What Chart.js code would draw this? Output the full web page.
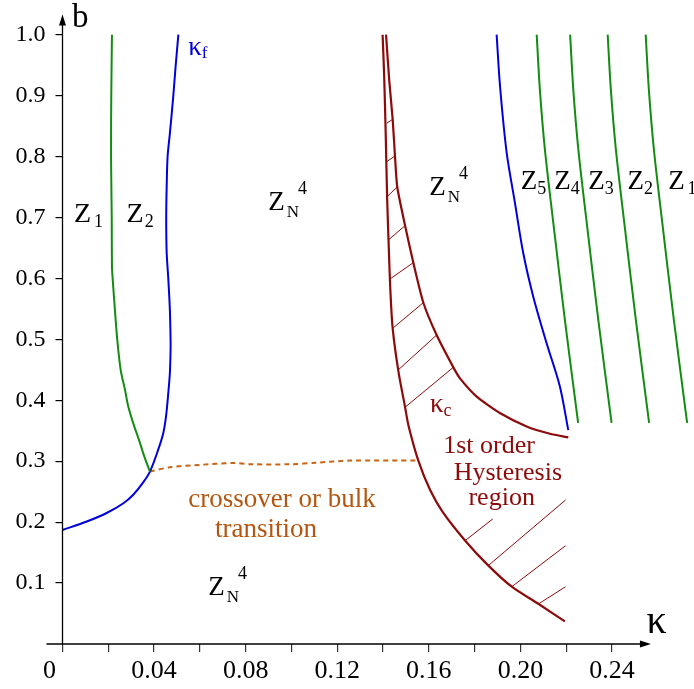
<!DOCTYPE html>
<html>
<head>
<meta charset="utf-8">
<script src="https://cdn.jsdelivr.net/npm/chart.js@4.4.1/dist/chart.umd.min.js"></script>
<style>
  html, body { margin: 0; padding: 0; background: #fff; }
  #wrap { width: 694px; height: 689px; }
</style>
</head>
<body>
<div id="wrap"><canvas id="phaseChart" width="694" height="689"></canvas></div>
<script>
// tick labels
const kappaTickLabels = ["0", "0.04", "0.08", "0.12", "0.16", "0.20", "0.24"];
const bTickLabels = ["0.1", "0.2", "0.3", "0.4", "0.5", "0.6", "0.7", "0.8", "0.9", "1.0"];

// phase boundaries, [kappa, b]
const greenLeft = [[0.0216, 1.0], [0.0213, 0.9], [0.0212, 0.8], [0.0215, 0.7], [0.0216, 0.62], [0.0219, 0.6],
  [0.0229, 0.548], [0.0239, 0.5], [0.0254, 0.45], [0.0273, 0.417], [0.0287, 0.39], [0.0309, 0.362],
  [0.0334, 0.335], [0.0357, 0.308], [0.0382, 0.283]];
const kappaF = [[0.0, 0.187], [0.0106, 0.201], [0.0193, 0.215], [0.0266, 0.231], [0.0309, 0.245], [0.0350, 0.264],
  [0.0382, 0.283], [0.0418, 0.319], [0.0440, 0.346], [0.0452, 0.373], [0.0462, 0.412], [0.0469, 0.445],
  [0.0472, 0.483], [0.0472, 0.5], [0.0469, 0.548], [0.0462, 0.6], [0.0455, 0.642], [0.0453, 0.7],
  [0.0455, 0.751], [0.0459, 0.8], [0.0469, 0.838], [0.0484, 0.9], [0.0494, 0.948], [0.0506, 1.0]];
const bulkLine = [[0.0382, 0.283], [0.0469, 0.290], [0.0600, 0.294], [0.0745, 0.297], [0.0819, 0.295],
  [0.0993, 0.295], [0.1110, 0.2976], [0.1255, 0.301], [0.1554, 0.301]];
const kappaCOuter = [[0.1398, 1.0], [0.1405, 0.93], [0.1412, 0.83], [0.1418, 0.73], [0.1425, 0.65], [0.1432, 0.58],
  [0.1442, 0.518], [0.1466, 0.45], [0.1496, 0.389], [0.1512, 0.357], [0.1554, 0.301], [0.1605, 0.253],
  [0.1660, 0.217], [0.1758, 0.170], [0.1859, 0.129], [0.1962, 0.094], [0.2078, 0.066], [0.2194, 0.037]];
const kappaCInner = [[0.1413, 1.0], [0.1427, 0.925], [0.1442, 0.861], [0.1452, 0.801], [0.1462, 0.75],
  [0.1496, 0.687], [0.1532, 0.626], [0.1576, 0.560], [0.1634, 0.507], [0.1707, 0.454], [0.1736, 0.436],
  [0.1809, 0.406], [0.1910, 0.379], [0.2027, 0.357], [0.2129, 0.345], [0.2209, 0.339]];
const hatchSegments = [
  [[0.1416, 0.8546], [0.1442, 0.8611]],
  [[0.1416, 0.7916], [0.1452, 0.8009]],
  [[0.1418, 0.7341], [0.1462, 0.7505]],
  [[0.1423, 0.6631], [0.1496, 0.6865]],
  [[0.1430, 0.5990], [0.1532, 0.6258]],
  [[0.1442, 0.5181], [0.1576, 0.5602]],
  [[0.1466, 0.4497], [0.1634, 0.5071]],
  [[0.1496, 0.3885], [0.1707, 0.4541]],
  [[0.1758, 0.1695], [0.1879, 0.2052]],
  [[0.1859, 0.1285], [0.2197, 0.2363]],
  [[0.1962, 0.0940], [0.2197, 0.1613]],
  [[0.2078, 0.0656], [0.2197, 0.0940]]
];
const blueRight = [[0.1896, 1.0], [0.1911, 0.915], [0.1940, 0.806], [0.1976, 0.724], [0.2012, 0.642],
  [0.2056, 0.570], [0.2114, 0.494], [0.2172, 0.423], [0.2209, 0.351]];
const greenRight1 = [[0.2071, 1.0], [0.2085, 0.909], [0.2107, 0.811], [0.2142, 0.696], [0.2194, 0.532], [0.2252, 0.363]];
const greenRight2 = [[0.2217, 1.0], [0.2231, 0.909], [0.2253, 0.811], [0.2288, 0.696], [0.2340, 0.532], [0.2398, 0.363]];
const greenRight3 = [[0.2381, 1.0], [0.2395, 0.909], [0.2417, 0.811], [0.2452, 0.696], [0.2504, 0.532], [0.2562, 0.363]];
const greenRight4 = [[0.2547, 1.0], [0.2561, 0.909], [0.2583, 0.811], [0.2618, 0.696], [0.2670, 0.532], [0.2728, 0.363]];

const GREEN = "#138c13";
const BLUE = "#0000dd";
const DARKRED = "#8c0a0a";
const ORANGE = "#c86414";
const SERIF = "'Liberation Serif', serif";

function pts(arr) {
  return arr.map(p => ({ x: p[0], y: p[1] }));
}

function curve(arr, color, width, extra) {
  return Object.assign({
    data: pts(arr),
    showLine: true,
    borderColor: color,
    borderWidth: width,
    pointRadius: 0,
    tension: 0.3,
    fill: false
  }, extra || {});
}

let datasets = [
  curve(greenLeft, GREEN, 2),
  curve(kappaF, BLUE, 2),
  curve(bulkLine, ORANGE, 2, { borderDash: [5, 4] }),
  curve(kappaCOuter, DARKRED, 2.2),
  curve(kappaCInner, DARKRED, 2.2, { tension: 0.2 }),
  curve(blueRight, BLUE, 2),
  curve(greenRight1, GREEN, 2),
  curve(greenRight2, GREEN, 2),
  curve(greenRight3, GREEN, 2),
  curve(greenRight4, GREEN, 2)
];
hatchSegments.forEach(seg => datasets.push(curve(seg, DARKRED, 1, { tension: 0 })));

// write text; parts = [[text, dx, dy, size], ...] laid out left to right from the anchor
function label(ctx, px, py, parts, color) {
  ctx.fillStyle = color;
  let cx = px;
  parts.forEach(p => {
    ctx.font = p[3] + "px " + SERIF;
    ctx.fillText(p[0], cx + p[1], py + p[2]);
    cx += p[1] + ctx.measureText(p[0]).width;
  });
}

const phaseDecor = {
  id: "phaseDecor",
  afterDatasetsDraw(chart) {
    const { ctx, scales: { x, y } } = chart;
    const X = v => x.getPixelForValue(v);
    const Y = v => y.getPixelForValue(v);
    const x0 = X(0), y0 = Y(0);

    ctx.save();
    // axes with arrows
    ctx.strokeStyle = "#000";
    ctx.fillStyle = "#000";
    ctx.lineWidth = 1.3;
    const xTip = X(0.257), yTip = Y(1.033);
    ctx.beginPath();
    ctx.moveTo(x0 - 16, y0);
    ctx.lineTo(xTip - 6, y0);
    ctx.moveTo(x0, y0);
    ctx.lineTo(x0, yTip + 6);
    ctx.stroke();
    ctx.beginPath();
    ctx.moveTo(xTip, y0);
    ctx.lineTo(xTip - 11, y0 - 3.5);
    ctx.lineTo(xTip - 11, y0 + 3.5);
    ctx.closePath();
    ctx.fill();
    ctx.beginPath();
    ctx.moveTo(x0, yTip);
    ctx.lineTo(x0 - 3.5, yTip + 11);
    ctx.lineTo(x0 + 3.5, yTip + 11);
    ctx.closePath();
    ctx.fill();

    ctx.textAlign = "left";
    ctx.textBaseline = "alphabetic";
    // axis names
    label(ctx, X(0.0041), Y(1.0126), [["b", 0, 0, 33]], "#000");
    label(ctx, X(0.2551), Y(0.018), [["\u03ba", 0, 0, 40]], "#000");

    // region names
    label(ctx, X(0.0050), Y(0.692), [["Z", 0, 0, 28], ["1", 3, 4.5, 18]], "#000");
    label(ctx, X(0.0280), Y(0.692), [["Z", 0, 0, 28], ["2", 1, 4.5, 18]], "#000");
    const zn4 = [["Z", 0, 0, 27], ["N", 2, 7, 17], ["4", -1, -16, 18]];
    label(ctx, X(0.0899), Y(0.713), zn4, "#000");
    label(ctx, X(0.1602), Y(0.737), zn4, "#000");
    label(ctx, X(0.0637), Y(0.080), zn4, "#000");
    label(ctx, X(0.2001), Y(0.746), [["Z", 0, 0, 27], ["5", 0, 5, 18]], "#000");
    label(ctx, X(0.2148), Y(0.746), [["Z", 0, 0, 27], ["4", 0, 5, 18]], "#000");
    label(ctx, X(0.2296), Y(0.746), [["Z", 0, 0, 27], ["3", 0, 5, 18]], "#000");
    label(ctx, X(0.2468), Y(0.746), [["Z", 0, 0, 27], ["2", 0, 5, 18]], "#000");
    label(ctx, X(0.2645), Y(0.746), [["Z", 0, 0, 27], ["1", 3, 5, 18]], "#000");

    // line names
    label(ctx, X(0.0549), Y(0.9667), [["\u03ba", 0, 0, 27], ["f", 0, 3, 17]], BLUE);
    label(ctx, X(0.1605), Y(0.381), [["\u03ba", 0, 0, 27], ["c", 0, 4, 18]], DARKRED);

    ctx.textAlign = "center";
    ctx.font = "26px " + SERIF;
    ctx.fillStyle = DARKRED;
    ctx.fillText("1st order", X(0.1863), Y(0.313));
    ctx.fillText("Hysteresis", X(0.1945), Y(0.269));
    ctx.fillText("region", X(0.1918), Y(0.228));

    ctx.textAlign = "left";
    ctx.font = "27px " + SERIF;
    ctx.fillStyle = "#b4560f";
    ctx.fillText("crossover or bulk", X(0.0549), Y(0.2253));
    ctx.fillText("transition", X(0.0666), Y(0.176));
    ctx.restore();
  }
};

new Chart(document.getElementById("phaseChart"), {
  type: "scatter",
  data: { datasets: datasets },
  options: {
    responsive: false,
    animation: false,
    layout: { padding: 0 },
    plugins: { legend: { display: false }, tooltip: { enabled: false } },
    scales: {
      x: {
        type: "linear",
        min: 0,
        max: 0.2758,
        border: { display: false },
        grid: { drawOnChartArea: false, drawTicks: true, tickLength: 8, color: "#333", lineWidth: 1.2 },
        ticks: {
          stepSize: 0.02,
          includeBounds: false,
          autoSkip: false,
          maxRotation: 0,
          padding: 4,
          color: "#000",
          font: { family: "Liberation Serif", size: 26 },
          callback: (v, i) => i % 2 ? "" : (i === 0 ? kappaTickLabels[0] + "    " : kappaTickLabels[i / 2])
        },
        afterBuildTicks: s => { s.ticks = s.ticks.filter(t => t.value < 0.245); },
        afterFit: s => { s.height = 45; s.paddingLeft = 0; s.paddingRight = 0; }
      },
      y: {
        type: "linear",
        min: 0,
        max: 1.0569,
        border: { display: false },
        grid: { drawOnChartArea: false, drawTicks: true, tickLength: 7, color: "#000", lineWidth: 1.2 },
        ticks: {
          stepSize: 0.1,
          includeBounds: false,
          padding: 10,
          color: "#000",
          font: { family: "Liberation Serif", size: 24 },
          callback: (v, i) => bTickLabels[i]
        },
        afterBuildTicks: s => { s.ticks = s.ticks.filter(t => t.value > 0.05 && t.value < 1.01); },
        afterFit: s => { s.width = 62.5; s.paddingTop = 0; s.paddingBottom = 0; }
      }
    }
  },
  plugins: [phaseDecor]
});
</script>
</body>
</html>
